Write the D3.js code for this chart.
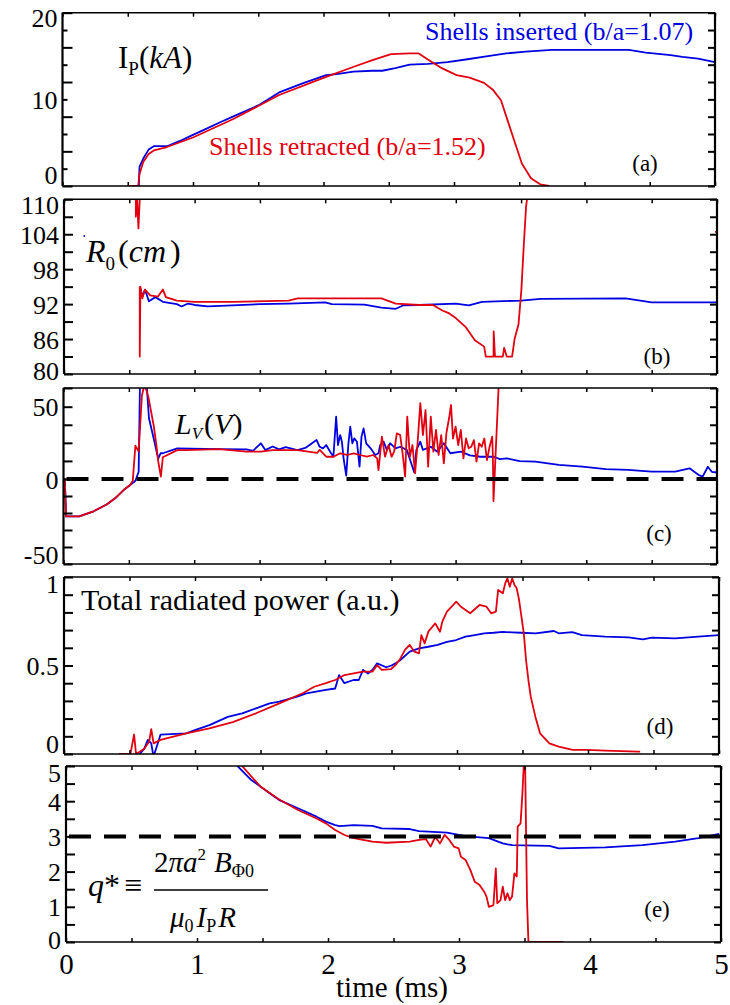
<!DOCTYPE html>
<html>
<head>
<meta charset="utf-8">
<script src="https://cdn.jsdelivr.net/npm/d3@7"></script>
<style>
  body { margin: 0; background: #fff; }
  svg { display: block; }
  text { font-family: "Liberation Serif", "Times New Roman", Times, serif; }
</style>
</head>
<body>
<div id="chart"></div>
<script>
// time axis (ms), shared by all panels
var xTicks = [0, 0.5, 1, 1.5, 2, 2.5, 3, 3.5, 4, 4.5, 5];
var xLabels = [0, 1, 2, 3, 4, 5];

// (a) plasma current Ip (kA)
var ipTicks = [0, 2, 4, 6, 8, 10, 12, 14, 16, 18, 20];
var ipLabels = [0, 10, 20];
var ipBlue = [[0.52, 0], [0.585, 0], [0.59, 2.2], [0.62, 3.2], [0.66, 4.2], [0.70, 4.6], [0.805, 4.6], [0.9, 5.2], [1.0, 5.9], [1.1, 6.6], [1.2, 7.3], [1.305, 8.0], [1.5, 9.3], [1.66, 10.8], [1.85, 11.9], [2.02, 12.8], [2.1, 12.9], [2.23, 13.2], [2.375, 13.3], [2.45, 13.3], [2.55, 13.6], [2.66, 14.0], [2.8, 14.1], [2.95, 14.3], [3.09, 14.6], [3.26, 15.0], [3.4, 15.3], [3.55, 15.5], [3.75, 15.7], [3.98, 15.7], [4.2, 15.7], [4.34, 15.7], [4.47, 15.4], [4.66, 15.1], [4.75, 14.9], [4.87, 14.7], [5.0, 14.3]];
var ipRed = [[0.50, 0], [0.58, 0], [0.59, 1.4], [0.62, 2.8], [0.66, 3.7], [0.70, 4.1], [0.8, 4.5], [1.0, 5.6], [1.305, 7.7], [1.66, 10.5], [2.02, 12.6], [2.232, 13.76], [2.375, 14.53], [2.518, 15.22], [2.66, 15.3], [2.73, 15.3], [2.80, 14.6], [2.91, 13.57], [3.02, 12.8], [3.12, 12.5], [3.23, 11.9], [3.30, 11.07], [3.36, 9.9], [3.41, 7.6], [3.46, 5.3], [3.52, 2.6], [3.59, 0.9], [3.66, 0.2], [3.73, 0]];

// (b) major radius R0 (cm)
var r0Ticks = [80, 83, 86, 89, 92, 95, 98, 101, 104, 107, 110];
var r0Labels = [80, 86, 92, 98, 104, 110];
var r0Blue = [[0.15, 103.7], [0.16, 103.7], null, [0.58, 95], [0.6, 93.3], [0.62, 94.5], [0.65, 92.5], [0.7, 93.2], [0.757, 92.4], [0.864, 92.0], [0.9, 91.6], [0.95, 92.1], [1.0, 91.85], [1.1, 91.6], [1.29, 91.8], [1.5, 92.0], [1.72, 92.1], [2.0, 92.3], [2.05, 92.0], [2.3, 91.9], [2.43, 91.4], [2.54, 91.2], [2.6, 91.8], [2.72, 91.85], [3.0, 92.1], [3.1, 91.8], [3.2, 92.4], [3.5, 92.6], [3.65, 92.9], [4.3, 93.0], [4.5, 92.3], [5.0, 92.3]];
var r0Red = [[0.55, 111], [0.55, 107], [0.56, 110], [0.57, 105], [0.58, 110], null, [0.58, 95], [0.58, 83], [0.585, 95], [0.6, 93], [0.62, 94.5], [0.66, 93.5], [0.72, 93.3], [0.757, 94.5], [0.78, 93.2], [0.864, 92.6], [1.0, 92.4], [1.29, 92.4], [1.72, 92.6], [1.79, 93.0], [2.005, 93.0], [2.43, 93.0], [2.54, 92.1], [2.72, 91.85], [2.825, 91.85], [2.897, 90.9], [2.95, 90.4], [3.0, 89.6], [3.074, 88.1], [3.146, 85.8], [3.217, 84.7], [3.23, 83.0], [3.289, 83.0], [3.29, 87.3], [3.30, 83.0], [3.36, 83.0], [3.37, 84.5], [3.39, 83], [3.431, 83.0], [3.45, 86], [3.48, 88.5], [3.502, 94.4], [3.52, 101.9], [3.538, 108.7], [3.556, 112], null, [4.985, 104.4], [5.02, 104.4]];

// (c) loop voltage Lv (V)
var lvTicks = [-50, -40, -30, -20, -10, 0, 12.5, 25, 37.5, 50, 60];
var lvLabels = [-50, 0, 50];
var lvBlue = [[0.0, 0], [0.01, 0], [0.02, -22], [0.12, -22], [0.23, -19], [0.33, -15], [0.40, -11], [0.46, -6.5], [0.51, -3.5], [0.55, -1], [0.575, 5], [0.585, 62], [0.636, 62], [0.654, 42], [0.69, 28], [0.725, 14], [0.743, 17.8], [0.76, 17.8], [0.87, 21.2], [1.19, 20.7], [1.4, 20.5], [1.45, 19.5], [1.51, 24.7], [1.544, 20], [1.6, 22.5], [1.65, 20.5], [1.7, 22], [1.79, 20], [1.85, 21.5], [1.936, 27], [1.96, 22.3], [1.985, 21.2], [2.01, 23.5], [2.04, 18.9], [2.065, 15.4], [2.086, 43.1], [2.10, 23.5], [2.117, 30.4], [2.13, 25.8], [2.143, 14.3], [2.163, 2.3], [2.18, 24.7], [2.194, 36.2], [2.21, 24.7], [2.225, 28.1], [2.245, 25.8], [2.265, 8.5], [2.28, 29.3], [2.296, 35], [2.316, 24.7], [2.35, 21.2], [2.385, 16.6], [2.41, 17.8], [2.423, 23.5], [2.449, 25.8], [2.474, 20.1], [2.50, 24.7], [2.54, 21.2], [2.576, 22.3], [2.627, 20.1], [2.665, 9.7], [2.683, 4.6], [2.70, 20.1], [2.73, 25.8], [2.75, 20.1], [2.81, 22.3], [2.86, 18.9], [2.91, 24.7], [2.96, 17.8], [3.04, 18.9], [3.11, 16.3], [3.19, 15.4], [3.29, 15.4], [3.34, 13.8], [3.39, 14.3], [3.49, 12.4], [3.61, 12], [3.79, 9.7], [3.97, 8.5], [4.15, 6.8], [4.32, 6.3], [4.5, 5.1], [4.68, 5.1], [4.79, 7.4], [4.86, 2.8], [4.89, 1.6], [4.93, 8.5], [4.96, 5], [5.0, 4.5]];
var lvRed = [[0.0, 0], [0.01, 0], [0.02, -22], [0.12, -22], [0.23, -19], [0.33, -15], [0.40, -11], [0.46, -6.5], [0.51, -3.5], [0.53, -1], [0.55, 23], [0.575, 19], [0.60, 56], [0.62, 62], [0.65, 55], [0.69, 37], [0.71, 24], [0.725, 12], [0.745, 1.6], [0.76, 15], [0.87, 20], [0.94, 20], [1.19, 20.7], [1.4, 19], [1.51, 19], [1.6, 20], [1.79, 20], [1.94, 18], [1.96, 20.1], [2.01, 15.4], [2.065, 15.4], [2.117, 17.8], [2.17, 16.6], [2.22, 17.8], [2.27, 16.6], [2.32, 15.4], [2.37, 16.6], [2.40, 14.3], [2.41, 6.2], [2.436, 29.3], [2.46, 15.4], [2.487, 23.5], [2.51, 15.4], [2.53, 18.9], [2.55, 31.6], [2.576, 30.4], [2.596, 16.6], [2.614, 1.6], [2.63, 43.1], [2.65, 15.4], [2.67, 23.5], [2.69, 3.9], [2.71, 25.8], [2.73, 51.9], [2.75, 30.4], [2.77, 47.7], [2.79, 8.5], [2.81, 43.1], [2.83, 18.9], [2.85, 33.9], [2.87, 16.6], [2.89, 30.4], [2.91, 10.8], [2.93, 32], [2.95, 42], [2.965, 50.9], [2.98, 28], [3.0, 36.2], [3.02, 23.5], [3.04, 33.9], [3.06, 14.3], [3.08, 28], [3.10, 21.2], [3.12, 22.3], [3.14, 26.9], [3.16, 12], [3.18, 24.7], [3.20, 22.3], [3.22, 28], [3.24, 13.1], [3.26, 22.3], [3.28, 29.3], [3.285, 16.6], [3.29, -13], [3.33, 62]];

// (d) total radiated power (a.u.)
var pradTicks = [0, 0.1, 0.2, 0.3, 0.4, 0.5, 0.6, 0.7, 0.8, 0.9, 1];
var pradLabels = [0, 0.5, 1];
var pradBlue = [[0.578, 0], [0.613, 0.03], [0.64, 0.08], [0.666, 0.06], [0.68, 0], [0.69, 0], [0.737, 0.11], [0.933, 0.117], [1.004, 0.136], [1.11, 0.163], [1.25, 0.21], [1.36, 0.23], [1.466, 0.258], [1.57, 0.286], [1.644, 0.296], [1.78, 0.324], [1.85, 0.343], [1.999, 0.362], [2.07, 0.37], [2.10, 0.446], [2.14, 0.40], [2.21, 0.418], [2.25, 0.418], [2.283, 0.475], [2.32, 0.455], [2.354, 0.475], [2.39, 0.512], [2.46, 0.49], [2.50, 0.50], [2.53, 0.512], [2.568, 0.531], [2.639, 0.578], [2.71, 0.597], [2.781, 0.606], [2.852, 0.616], [2.923, 0.634], [2.994, 0.644], [3.065, 0.663], [3.136, 0.672], [3.207, 0.682], [3.279, 0.685], [3.35, 0.69], [3.421, 0.687], [3.492, 0.685], [3.6, 0.682], [3.74, 0.695], [3.776, 0.682], [3.88, 0.688], [3.954, 0.672], [4.131, 0.663], [4.309, 0.659], [4.42, 0.648], [4.487, 0.657], [4.665, 0.653], [4.842, 0.663], [5.0, 0.672]];
var pradRed = [[0.42, 0], [0.507, 0], [0.535, 0.11], [0.55, 0], [0.613, 0.03], [0.65, 0.07], [0.666, 0.14], [0.684, 0.06], [0.737, 0.08], [0.933, 0.117], [1.11, 0.145], [1.288, 0.18], [1.466, 0.23], [1.644, 0.286], [1.822, 0.343], [1.91, 0.38], [1.999, 0.40], [2.07, 0.418], [2.141, 0.446], [2.212, 0.455], [2.283, 0.465], [2.354, 0.465], [2.39, 0.502], [2.426, 0.475], [2.497, 0.48], [2.53, 0.502], [2.568, 0.54], [2.603, 0.588], [2.639, 0.616], [2.675, 0.578], [2.71, 0.569], [2.728, 0.672], [2.753, 0.625], [2.781, 0.691], [2.834, 0.738], [2.87, 0.691], [2.888, 0.748], [2.923, 0.804], [2.959, 0.832], [2.994, 0.861], [3.03, 0.832], [3.065, 0.814], [3.101, 0.795], [3.172, 0.842], [3.225, 0.832], [3.261, 0.795], [3.297, 0.804], [3.314, 0.927], [3.35, 0.908], [3.368, 0.964], [3.385, 0.992], [3.403, 0.945], [3.421, 0.992], [3.439, 0.955], [3.456, 0.936], [3.474, 0.87], [3.51, 0.682], [3.527, 0.531], [3.545, 0.418], [3.563, 0.324], [3.598, 0.211], [3.634, 0.117], [3.705, 0.06], [3.776, 0.042], [3.883, 0.023], [3.99, 0.023], [4.131, 0.019], [4.38, 0.013], [4.398, 0.013]];

// (e) edge safety factor q*
var qTicks = [0, 0.5, 1, 1.5, 2, 2.5, 3, 3.5, 4, 4.5, 5];
var qLabels = [0, 1, 2, 3, 4, 5];
var qBlue = [[1.309, 5.0], [1.415, 4.60], [1.557, 4.22], [1.628, 4.03], [1.771, 3.80], [1.913, 3.56], [1.984, 3.42], [2.055, 3.32], [2.09, 3.29], [2.197, 3.32], [2.339, 3.30], [2.41, 3.23], [2.624, 3.21], [2.695, 3.15], [2.908, 3.11], [3.05, 3.01], [3.228, 2.95], [3.334, 2.80], [3.405, 2.75], [3.69, 2.73], [3.761, 2.66], [4.116, 2.69], [4.4, 2.75], [4.65, 2.85], [4.827, 2.95], [4.987, 3.07]];
var qRed = [[1.344, 5.0], [1.486, 4.41], [1.628, 4.05], [1.771, 3.75], [1.913, 3.51], [1.984, 3.37], [2.055, 3.18], [2.126, 3.04], [2.197, 2.95], [2.268, 2.90], [2.339, 2.85], [2.446, 2.82], [2.624, 2.85], [2.695, 2.90], [2.748, 2.92], [2.783, 2.71], [2.819, 2.99], [2.855, 2.80], [2.89, 3.04], [2.926, 2.90], [2.961, 2.71], [2.997, 2.66], [3.015, 2.42], [3.05, 2.33], [3.086, 2.05], [3.121, 1.71], [3.157, 1.62], [3.192, 1.43], [3.21, 1.29], [3.228, 1.0], [3.263, 1.05], [3.281, 2.09], [3.292, 1.10], [3.317, 1.19], [3.334, 1.57], [3.352, 1.19], [3.37, 1.38], [3.388, 1.19], [3.405, 1.29], [3.423, 1.95], [3.441, 1.86], [3.448, 3.28], [3.47, 3.37], [3.484, 4.22], [3.494, 5.0], [3.505, 5.0], [3.519, 1.19], [3.53, 0], [3.796, 0]];

var BLUE = "#0000e0";
var RED = "#e00010";

var svg = d3.select("#chart").append("svg")
    .attr("width", 730)
    .attr("height", 1005);

svg.append("rect").attr("width", 730).attr("height", 1005).attr("fill", "#fff");

// topShift / bottomShift: px nudge for the labels that sit on the frame corners
var panels = [
    { id: "a", x0: 62.5, x1: 715, yDomain: [0, 20], yRange: [186, 12.7], ticks: ipTicks, labels: ipLabels,
      blue: ipBlue, red: ipRed, tickLen: function (d) { return d % 4 === 0 ? 10 : 5; }, tag: "(a)", tagX: 645, tagY: 171,
      topShift: 5, bottomShift: -12 },
    { id: "b", x0: 64, x1: 717, yDomain: [80, 110], yRange: [374, 199.3], ticks: r0Ticks, labels: r0Labels,
      blue: r0Blue, red: r0Red, tickLen: function () { return 9; }, tag: "(b)", tagX: 657, tagY: 364,
      topShift: 5, bottomShift: -4 },
    { id: "c", x0: 63.5, x1: 717, yDomain: [-50, 0, 50, 60], yRange: [564, 479, 406.7, 388], ticks: lvTicks, labels: lvLabels,
      blue: lvBlue, red: lvRed, tickLen: function () { return 9; }, tag: "(c)", tagX: 659, tagY: 541, dashed: 0,
      topShift: 0, bottomShift: -10 },
    { id: "d", x0: 64, x1: 719, yDomain: [0, 1], yRange: [754, 577], ticks: pradTicks, labels: pradLabels,
      blue: pradBlue, red: pradRed, tickLen: function () { return 9; }, tag: "(d)", tagX: 660, tagY: 734,
      topShift: 6, bottomShift: -11 },
    { id: "e", x0: 66, x1: 721, yDomain: [0, 5], yRange: [942, 766], ticks: qTicks, labels: qLabels,
      blue: qBlue, red: qRed, tickLen: function () { return 9; }, tag: "(e)", tagX: 657, tagY: 917, dashed: 3, xAxisLabels: true,
      topShift: 6, bottomShift: -3 }
];

panels.forEach(drawPanel);

function drawPanel(p) {
    var g = svg.append("g").attr("class", "panel-" + p.id);

    var x = d3.scaleLinear().domain([0, 5]).range([p.x0, p.x1]);
    var y = d3.scaleLinear().domain(p.yDomain).range(p.yRange);
    var top = p.yRange[p.yRange.length - 1];
    var bottom = p.yRange[0];
    var yMin = p.yDomain[0], yMax = p.yDomain[p.yDomain.length - 1];

    svg.append("clipPath").attr("id", "clip-" + p.id)
        .append("rect")
        .attr("x", p.x0).attr("y", top)
        .attr("width", p.x1 - p.x0).attr("height", bottom - top);

    var line = d3.line()
        .defined(function (d) { return d !== null; })
        .x(function (d) { return x(d[0]); })
        .y(function (d) { return y(d[1]); });

    var lines = g.append("g").attr("clip-path", "url(#clip-" + p.id + ")");
    lines.append("path").datum(p.blue)
        .attr("d", line).attr("fill", "none")
        .attr("stroke", BLUE).attr("stroke-width", 1.8).attr("stroke-linejoin", "round");
    lines.append("path").datum(p.red)
        .attr("d", line).attr("fill", "none")
        .attr("stroke", RED).attr("stroke-width", 1.8).attr("stroke-linejoin", "round");

    if (p.dashed !== undefined) {
        lines.append("line")
            .attr("x1", p.x0).attr("x2", p.x1)
            .attr("y1", y(p.dashed)).attr("y2", y(p.dashed))
            .attr("stroke", "#000").attr("stroke-width", 4)
            .attr("stroke-dasharray", "22,13")
            .attr("stroke-dashoffset", -3);
    }

    // left axis: inward ticks, sparse labels
    var left = g.append("g")
        .attr("transform", "translate(" + p.x0 + ",0)")
        .call(d3.axisLeft(y).tickValues(p.ticks).tickSizeInner(-9).tickSizeOuter(0).tickPadding(5)
            .tickFormat(function (d) { return p.labels.indexOf(d) >= 0 ? String(d) : ""; }));
    left.select(".domain").remove();
    left.selectAll(".tick line").attr("x2", p.tickLen).attr("stroke-width", 2);
    left.selectAll(".tick text").filter(function (d) { return p.labels.indexOf(d) < 0; }).remove();
    left.selectAll(".tick text")
        .attr("font-size", 26).attr("font-family", null).attr("fill", "#000")
        .attr("dy", "0.35em")
        .attr("y", function (d) { return d === yMax ? p.topShift : (d === yMin ? p.bottomShift : 0); });

    var right = g.append("g")
        .attr("transform", "translate(" + p.x1 + ",0)")
        .call(d3.axisRight(y).tickValues(p.ticks).tickSizeInner(-7).tickSizeOuter(0).tickFormat(""));
    right.select(".domain").remove();
    right.selectAll(".tick line").attr("stroke-width", 2);

    var topAx = g.append("g")
        .attr("transform", "translate(0," + top + ")")
        .call(d3.axisTop(x).tickValues(xTicks).tickSizeInner(-4).tickSizeOuter(0).tickFormat(""));
    topAx.select(".domain").remove();
    topAx.selectAll(".tick line").attr("stroke-width", 1.5);

    var bottomAx = g.append("g")
        .attr("transform", "translate(0," + bottom + ")")
        .call(d3.axisBottom(x).tickValues(xTicks).tickSizeInner(-4).tickSizeOuter(0).tickPadding(11)
            .tickFormat(function (d) { return p.xAxisLabels && xLabels.indexOf(d) >= 0 ? String(d) : ""; }));
    bottomAx.select(".domain").remove();
    bottomAx.selectAll(".tick line").attr("stroke-width", 1.5);
    bottomAx.selectAll(".tick text").attr("font-size", 29).attr("font-family", null).attr("fill", "#000");
    if (!p.xAxisLabels) bottomAx.selectAll(".tick text").remove();
    else bottomAx.selectAll(".tick text").filter(function (d) { return xLabels.indexOf(d) < 0; }).remove();

    // frame
    g.append("line").attr("x1", p.x0).attr("x2", p.x1).attr("y1", top).attr("y2", top)
        .attr("stroke", "#000").attr("stroke-width", 1.5);
    g.append("line").attr("x1", p.x0).attr("x2", p.x1).attr("y1", bottom).attr("y2", bottom)
        .attr("stroke", "#000").attr("stroke-width", 1.5);
    g.append("line").attr("x1", p.x0).attr("x2", p.x0).attr("y1", top).attr("y2", bottom)
        .attr("stroke", "#000").attr("stroke-width", 2.2);
    g.append("line").attr("x1", p.x1).attr("x2", p.x1).attr("y1", top).attr("y2", bottom)
        .attr("stroke", "#000").attr("stroke-width", 2.2);

    g.append("text")
        .attr("x", p.tagX).attr("y", p.tagY)
        .attr("text-anchor", "middle")
        .attr("font-size", 23)
        .text(p.tag);
}

// panel titles
var ip = svg.append("text").attr("x", 118).attr("y", 68).attr("font-size", 31);
ip.append("tspan").text("I");
ip.append("tspan").attr("font-size", 19).attr("dy", 7).text("P");
ip.append("tspan").attr("dy", -7).text("(");
ip.append("tspan").attr("font-style", "italic").text("kA");
ip.append("tspan").text(")");

svg.append("text").attr("x", 425).attr("y", 40).attr("font-size", 26).attr("fill", BLUE)
    .text("Shells inserted (b/a=1.07)");
svg.append("text").attr("x", 209).attr("y", 155).attr("font-size", 26).attr("fill", RED)
    .text("Shells retracted (b/a=1.52)");

var r0 = svg.append("text").attr("x", 86).attr("y", 262).attr("font-size", 32);
r0.append("tspan").attr("font-style", "italic").text("R");
r0.append("tspan").attr("font-size", 19).attr("dy", 8).text("0");
r0.append("tspan").attr("dy", -8).attr("dx", 3).text("(");
r0.append("tspan").attr("font-style", "italic").text("cm");
r0.append("tspan").attr("dx", 4).text(")");

var lv = svg.append("text").attr("x", 175).attr("y", 434).attr("font-size", 30);
lv.append("tspan").attr("font-style", "italic").text("L");
lv.append("tspan").attr("font-style", "italic").attr("font-size", 17).attr("dy", 5).text("V");
lv.append("tspan").attr("dy", -5).attr("dx", 2).text("(");
lv.append("tspan").attr("font-style", "italic").text("V");
lv.append("tspan").text(")");

svg.append("text").attr("x", 81).attr("y", 610).attr("font-size", 30)
    .text("Total radiated power (a.u.)");

// q* definition
var qs = svg.append("text").attr("x", 88).attr("y", 896).attr("font-size", 32);
qs.append("tspan").attr("font-style", "italic").text("q");
qs.append("tspan").text("*");
qs.append("tspan").attr("dx", 4).text("≡");

var num = svg.append("text").attr("x", 154).attr("y", 872).attr("font-size", 29);
num.append("tspan").text("2");
num.append("tspan").attr("font-style", "italic").text("πa");
num.append("tspan").attr("font-size", 17).attr("dy", -12).text("2");
num.append("tspan").attr("font-style", "italic").attr("dy", 12).attr("dx", 8).text("B");
num.append("tspan").attr("font-size", 18).attr("dy", 5).text("Φ0");

svg.append("line").attr("x1", 154).attr("x2", 268).attr("y1", 890).attr("y2", 890)
    .attr("stroke", "#000").attr("stroke-width", 1.5);

var den = svg.append("text").attr("x", 170).attr("y", 927).attr("font-size", 29);
den.append("tspan").attr("font-style", "italic").text("μ");
den.append("tspan").attr("font-size", 18).attr("dy", 5).text("0");
den.append("tspan").attr("font-style", "italic").attr("dy", -5).attr("dx", 3).text("I");
den.append("tspan").attr("font-size", 18).attr("dy", 5).text("P");
den.append("tspan").attr("font-style", "italic").attr("dy", -5).attr("dx", 2).text("R");

svg.append("text").attr("x", 392).attr("y", 997).attr("text-anchor", "middle").attr("font-size", 29)
    .text("time (ms)");
</script>
</body>
</html>
